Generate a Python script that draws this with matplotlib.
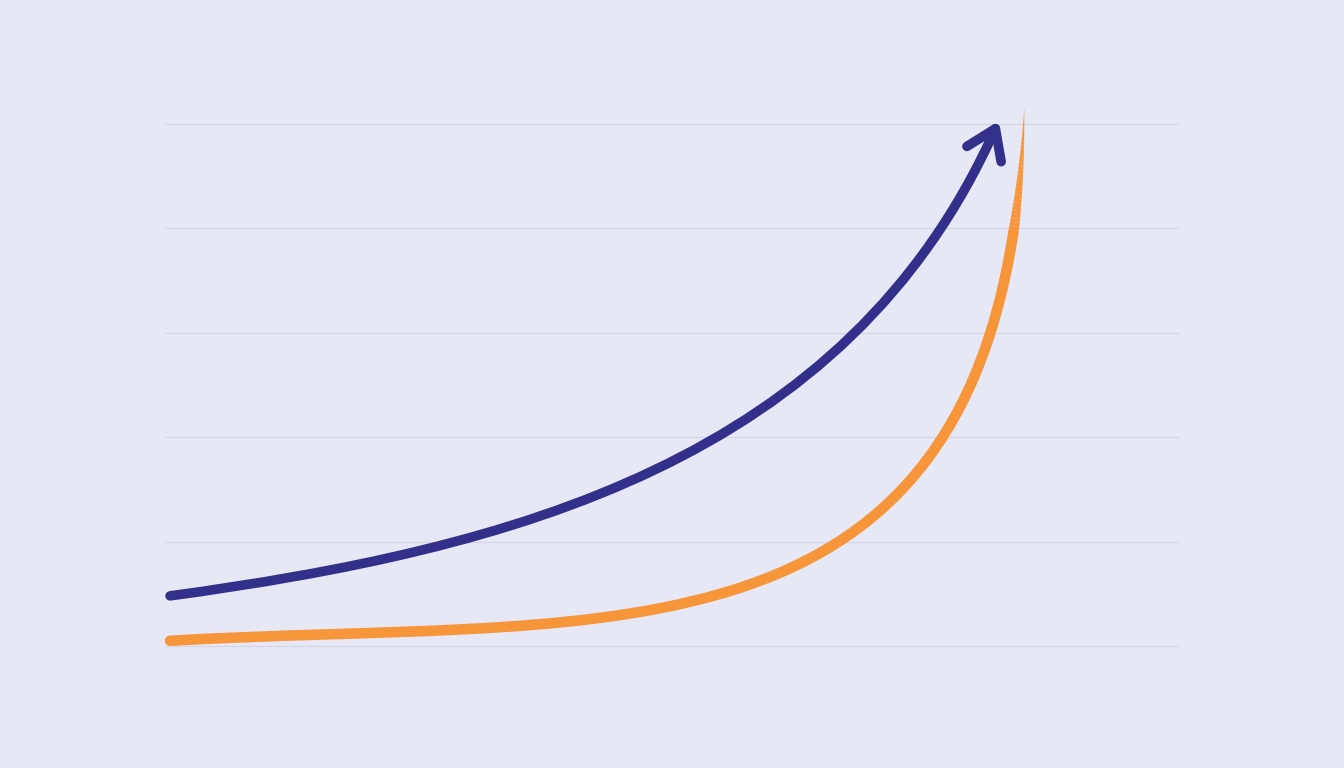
import numpy as np
import matplotlib
matplotlib.use("Agg")
import matplotlib.pyplot as plt
from matplotlib.path import Path
from matplotlib.patches import PathPatch, FancyArrowPatch
from matplotlib.bezier import split_de_casteljau

# ---- data ----
blue_x = [0.04, 0.73, 0.93, 1.32, 2.31, 2.81, 3.30, 3.79, 4.29, 4.78, 5.28, 5.77, 6.26, 6.76, 7.22, 7.40, 7.63, 7.83, 8.01, 8.23]
blue_y = [0.48, 0.56, 0.59, 0.64, 0.85, 0.99, 1.16, 1.30, 1.49, 1.69, 1.92, 2.18, 2.50, 2.95, 3.44, 3.70, 4.01, 4.34, 4.66, 5.03]

orange_x = [0.04, 0.73, 1.32, 2.38, 3.30, 3.89, 4.29, 4.78, 5.28, 5.87, 6.26, 6.66, 6.86, 7.22, 7.35, 7.63, 7.85, 8.14, 8.29, 8.39, 8.44, 8.46, 8.48, 8.48]
orange_y = [0.05, 0.07, 0.09, 0.13, 0.18, 0.24, 0.28, 0.34, 0.44, 0.62, 0.81, 1.02, 1.14, 1.40, 1.55, 1.95, 2.36, 3.01, 3.51, 4.01, 4.43, 4.75, 5.04, 5.13]

grid_levels = [0, 1, 2, 3, 4, 5]

# ---- style ----
BG = "#E7E8F6"
GRID = "#D4D5E5"
BLUE = "#32308A"
ORANGE = "#F7953A"

W, H = 1344, 768
fig = plt.figure(figsize=(W / 100, H / 100), dpi=100, facecolor=BG)
ax = fig.add_axes([166 / W, (H - 646) / H, (1178 - 166) / W, (646 - 124) / H])
ax.set_facecolor(BG)
ax.set_xlim(0, 10)
ax.set_ylim(0, 5)
for s in ax.spines.values():
    s.set_visible(False)
ax.set_xticks([])
ax.set_yticks([])

for g in grid_levels:
    ax.axhline(g, color=GRID, lw=0.9, zorder=1, clip_on=False)


def _bez(C, t):
    t = np.atleast_1d(t)[:, None]
    return ((1 - t) ** 3 * C[0] + 3 * t * (1 - t) ** 2 * C[1]
            + 3 * t ** 2 * (1 - t) * C[2] + t ** 3 * C[3])


def _bez_d1(C, t):
    t = t[:, None]
    return (3 * (1 - t) ** 2 * (C[1] - C[0]) + 6 * t * (1 - t) * (C[2] - C[1])
            + 3 * t ** 2 * (C[3] - C[2]))


def _bez_d2(C, t):
    t = t[:, None]
    return 6 * (1 - t) * (C[2] - 2 * C[1] + C[0]) + 6 * t * (C[3] - 2 * C[2] + C[1])


def fit_cubic(xs, ys, iters=60):
    """Least-squares smooth cubic Bezier (end points fixed) through the readings."""
    D = ax.transData.transform(np.column_stack([xs, ys]).astype(float))
    d = np.hypot(*np.diff(D, axis=0).T)
    t = np.concatenate([[0], np.cumsum(d)]) / d.sum()
    P0, P3 = D[0], D[-1]
    C = None
    for _ in range(iters):
        b0 = (1 - t) ** 3
        b1 = 3 * t * (1 - t) ** 2
        b2 = 3 * t ** 2 * (1 - t)
        b3 = t ** 3
        A = np.column_stack([b1, b2])
        R = D - np.outer(b0, P0) - np.outer(b3, P3)
        sol, *_ = np.linalg.lstsq(A, R, rcond=None)
        C = np.array([P0, sol[0], sol[1], P3])
        diff = _bez(C, t) - D
        d1 = _bez_d1(C, t)
        d2 = _bez_d2(C, t)
        num = (diff * d1).sum(1)
        den = (d1 * d1).sum(1) + (diff * d2).sum(1)
        t = np.clip(t - num / np.where(np.abs(den) > 1e-9, den, 1e-9), 0, 1)
        t[0], t[-1] = 0.0, 1.0
    return ax.transData.inverted().transform(C)


CURVE = [Path.MOVETO, Path.CURVE4, Path.CURVE4, Path.CURVE4]

# blue line with open arrow head
Cb = fit_cubic(blue_x, blue_y)
arrow = FancyArrowPatch(path=Path(Cb, CURVE),
                        arrowstyle="->,head_length=2.0,head_width=1.35",
                        mutation_scale=10, lw=6.9, color=BLUE,
                        capstyle="round", joinstyle="round", zorder=3,
                        clip_on=False)
ax.add_patch(arrow)

# orange line, tapering towards the top
Co = fit_cubic(orange_x, orange_y)
full_w = 7.6
taper_start, taper_end = 3.95, orange_y[-1]

# parameter where the curve reaches the taper start (bisection on y)
lo, hi = 0.0, 1.0
for _ in range(50):
    mid = 0.5 * (lo + hi)
    if _bez(Co, mid)[0][1] < taper_start:
        lo = mid
    else:
        hi = mid
body, tip = split_de_casteljau(Co, lo)
ax.add_patch(PathPatch(Path(np.asarray(body), CURVE), fill=False, lw=full_w,
                       edgecolor=ORANGE, capstyle="round", joinstyle="round",
                       zorder=3, clip_on=False))

subs = []
rest = np.asarray(tip)
nsub = 30
for k in range(nsub, 1, -1):
    left, rest = split_de_casteljau(rest, 1.0 / k)
    subs.append(np.asarray(left))
subs.append(np.asarray(rest))
for s in subs:
    ym = 0.5 * (s[0][1] + s[3][1])
    f = max(0.0, (taper_end - ym) / (taper_end - taper_start))
    ax.add_patch(PathPatch(Path(s, CURVE), fill=False, lw=max(0.3, full_w * f),
                           edgecolor=ORANGE, capstyle="butt",
                           joinstyle="round", zorder=3, clip_on=False))

fig.savefig("out.png", dpi=100, facecolor=BG)
